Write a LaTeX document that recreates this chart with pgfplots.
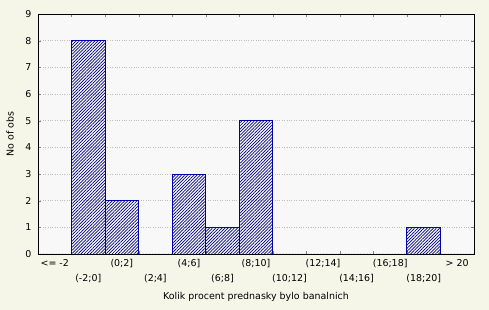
\documentclass[border=0pt]{standalone}
\usepackage{pgfplots}
\pgfplotsset{compat=1.18}
\usetikzlibrary{patterns.meta}
\usepackage{fontspec}
\setmainfont{DejaVu Sans}
\definecolor{bgc}{RGB}{245,245,232}
\definecolor{plotbg}{RGB}{248,248,248}
\definecolor{barline}{RGB}{0,0,170}
\definecolor{hatch}{RGB}{0,0,120}
\begin{document}
\begin{tikzpicture}
\fill[bgc] (0,0) rectangle (489bp,310bp);
\begin{axis}[
  at={(38bp,56bp)}, anchor=south west,
  scale only axis, width=436bp, height=240bp,
  axis background/.style={fill=plotbg},
  xmin=-0.5, xmax=12.5, ymin=0, ymax=9,
  ytick={0,...,9},
  /pgf/number format/assume math mode=true,
  ymajorgrids, grid style={gray!50, dotted, line width=0.6pt},
  tick align=inside,
  xtick={0,2,4,6,8,10,12},
  xticklabels={{<= -2},{(0;2]},{(4;6]},{(8;10]},{(12;14]},{(16;18]},{> 20}},
  extra x ticks={1,3,5,7,9,11},
  extra x tick labels={{(-2;0]},{(2;4]},{(6;8]},{(10;12]},{(14;16]},{(18;20]}},
  extra x tick style={major tick length=0pt, tick label style={yshift=-15bp}, grid=none},
  major x tick style={draw=none},
  minor xtick={0.5,1.5,...,11.5},
  minor tick length=2.5bp,
  major tick length=3bp,
  xticklabel style={font=\fontsize{9.5}{11}\selectfont, yshift=-1.5bp},
  yticklabel style={font=\fontsize{9.5}{11}\selectfont, xshift=-3bp},
  xlabel={Kolik procent prednasky bylo banalnich},
  ylabel={No of obs},
  xlabel style={at={(axis description cs:0.5,-0.179)}, anchor=center, font=\fontsize{9.5}{11}\selectfont},
  ylabel style={at={(axis description cs:-0.064,0.5)}, anchor=center, font=\fontsize{9.5}{11}\selectfont},
  axis line style={black, line width=0.8pt},
]
\addplot[ybar, bar width=1, draw=barline, line width=0.9pt,
  pattern={Lines[angle=45, distance=2.2bp, line width=0.7bp]}, pattern color=hatch]
  coordinates {(0,0) (1,8) (2,2) (3,0) (4,3) (5,1) (6,5) (7,0) (8,0) (9,0) (10,0) (11,1) (12,0)};
\end{axis}
\end{tikzpicture}
\end{document}
